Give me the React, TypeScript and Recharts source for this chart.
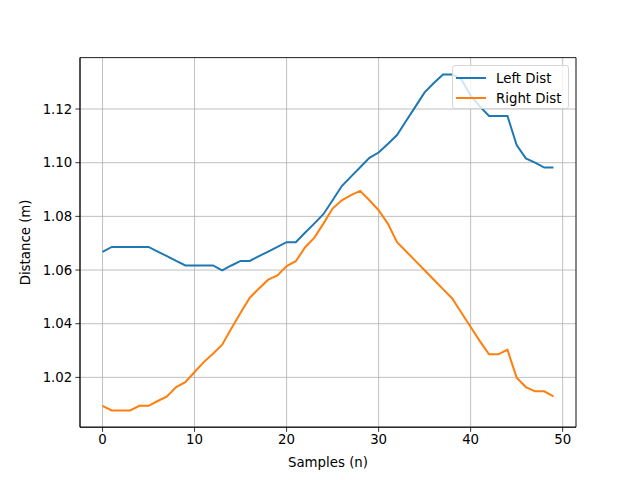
import React from 'react';
import {
  LineChart,
  Line,
  XAxis,
  YAxis,
  CartesianGrid,
  ReferenceArea,
} from 'recharts';

const leftDist = [
  1.0668, 1.0686, 1.0686, 1.0686, 1.0686, 1.0686, 1.0669, 1.0652, 1.0634, 1.0617,
  1.0617, 1.0617, 1.0617, 1.0599, 1.0617, 1.0634, 1.0634, 1.0652, 1.0669, 1.0686,
  1.0704, 1.0704, 1.0739, 1.0773, 1.0808, 1.0860, 1.0913, 1.0948, 1.0983, 1.1018,
  1.1038, 1.1070, 1.1103, 1.1156, 1.1209, 1.1262, 1.1297, 1.1329, 1.1329, 1.1310,
  1.1250, 1.1210, 1.1174, 1.1174, 1.1174, 1.1066, 1.1016, 1.1000, 1.0982, 1.0982,
];

const rightDist = [
  1.0094, 1.0077, 1.0077, 1.0077, 1.0094, 1.0094, 1.0112, 1.0129, 1.0164, 1.0182,
  1.0220, 1.0257, 1.0288, 1.0322, 1.0382, 1.0441, 1.0497, 1.0531, 1.0564, 1.0580,
  1.0615, 1.0633, 1.0684, 1.0720, 1.0773, 1.0829, 1.0860, 1.0879, 1.0895, 1.0860,
  1.0823, 1.0773, 1.0704, 1.0669, 1.0634, 1.0599, 1.0564, 1.0529, 1.0494, 1.0441,
  1.0388, 1.0335, 1.0286, 1.0286, 1.0303, 1.0199, 1.0164, 1.0148, 1.0148, 1.0129,
];

const xTicks = [0, 10, 20, 30, 40, 50];
const yTicks = [1.02, 1.04, 1.06, 1.08, 1.1, 1.12];

const data = leftDist.map((v, i) => ({ n: i, left: v, right: rightDist[i] }));

const X_DOMAIN: [number, number] = [-2.45, 51.45];
const Y_DOMAIN: [number, number] = [1.00144, 1.13916];

const font = { fontFamily: 'DejaVu Sans', fontSize: 13.33, fill: '#000' };

const legendItems = [
  { label: 'Left Dist', color: '#1f77b4' },
  { label: 'Right Dist', color: '#ff7f0e' },
];

// matplotlib-style legend box, drawn over the plot
const LegendBox = () => (
  <div
    style={{
      position: 'absolute',
      left: 452,
      top: 65,
      width: 117,
      height: 44,
      boxSizing: 'border-box',
      background: 'rgba(255,255,255,0.8)',
      border: '1px solid #d6d6d6',
      borderRadius: 3,
      fontFamily: 'DejaVu Sans',
      fontSize: 13.33,
      color: '#000',
      padding: '2px 0 0 3px',
    }}
  >
    {legendItems.map((item) => (
      <div key={item.label} style={{ display: 'flex', alignItems: 'center', height: 20 }}>
        <div style={{ width: 30, height: 2, background: item.color, marginRight: 10 }} />
        <span>{item.label}</span>
      </div>
    ))}
  </div>
);

export default function App() {
  return (
    <div style={{ position: 'absolute', left: 0, top: 0, width: 640, height: 480, background: '#fff' }}>
      <LineChart
        width={640}
        height={480}
        data={data}
        margin={{ top: 57.6, right: 64, bottom: 22.8, left: 20 }}
      >
        <CartesianGrid stroke="#b0b0b0" strokeWidth={0.8} />
        <XAxis
          dataKey="n"
          type="number"
          domain={X_DOMAIN}
          ticks={xTicks}
          allowDataOverflow
          height={30}
          tickSize={4.67}
          tickMargin={3}
          tick={font}
          axisLine={{ stroke: '#000', strokeWidth: 0.8 }}
          tickLine={{ stroke: '#000', strokeWidth: 0.8 }}
          label={{ value: 'Samples (n)', position: 'insideBottom', offset: -10, ...font }}
        />
        <YAxis
          type="number"
          domain={Y_DOMAIN}
          ticks={yTicks}
          allowDataOverflow
          width={60}
          tickSize={4.67}
          tickMargin={3}
          tick={font}
          tickFormatter={(v: number) => v.toFixed(2)}
          axisLine={{ stroke: '#000', strokeWidth: 0.8 }}
          tickLine={{ stroke: '#000', strokeWidth: 0.8 }}
          label={{ value: 'Distance (m)', angle: -90, position: 'insideLeft', offset: 0, dx: 5, ...font, textAnchor: 'middle' }}
        />
        <ReferenceArea
          x1={X_DOMAIN[0]}
          x2={X_DOMAIN[1]}
          y1={Y_DOMAIN[0]}
          y2={Y_DOMAIN[1]}
          fill="none"
          stroke="#000"
          strokeWidth={0.8}
          fillOpacity={0}
        />
        <Line
          dataKey="left"
          stroke="#1f77b4"
          strokeWidth={2}
          dot={false}
          isAnimationActive={false}
        />
        <Line
          dataKey="right"
          stroke="#ff7f0e"
          strokeWidth={2}
          dot={false}
          isAnimationActive={false}
        />
      </LineChart>
      <LegendBox />
    </div>
  );
}
